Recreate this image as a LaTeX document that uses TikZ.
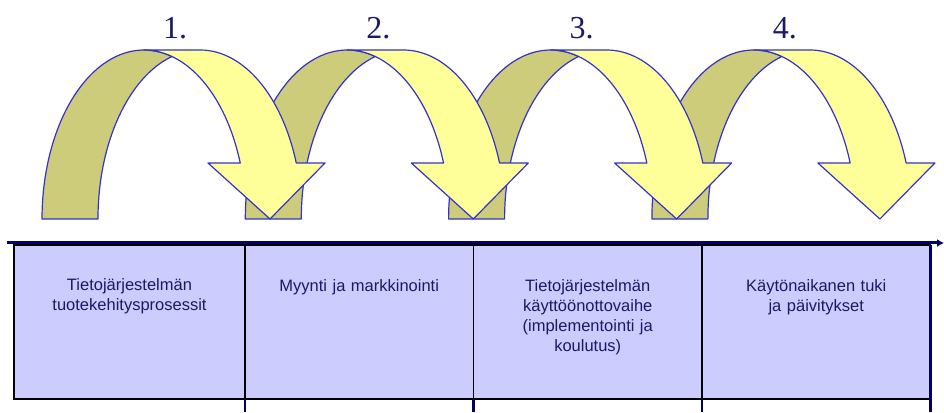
\documentclass[tikz,border=0pt]{standalone}
\usepackage{fontspec}
\setmainfont{Liberation Serif}
\setsansfont{Liberation Sans}
\usetikzlibrary{arrows.meta,positioning}
\definecolor{ArrowYellow}{HTML}{FFFF99}
\definecolor{ArrowOlive}{HTML}{CCCC7A}
\definecolor{ArrowEdge}{HTML}{3333CC}
\definecolor{PhaseFill}{HTML}{CCCCFF}
\definecolor{AxisNavy}{HTML}{000066}
\definecolor{TextNavy}{HTML}{1A1A66}

\begin{document}
\begin{tikzpicture}[
  x=1pt,y=1pt,
  node distance=0pt,
  phase/.style={rectangle,draw=black,line width=1.6pt,fill=PhaseFill,minimum width=228.5pt,minimum height=154pt,inner sep=0pt,outer sep=0pt},
  phasetext/.style={text width=210pt,align=center,inner sep=0pt,font=\sffamily\fontsize{16.5}{20}\selectfont,text=TextNavy},
  stepnum/.style={inner sep=0pt,font=\fontsize{32}{36}\selectfont,text=TextNavy},
  backpart/.style={fill=ArrowOlive,draw=ArrowEdge,line width=1.2pt,line join=round},
  frontpart/.style={fill=ArrowYellow,draw=ArrowEdge,line width=1.2pt,line join=round},
  axis/.style={-{Latex[length=7pt,width=8pt]},line width=3pt,color=AxisNavy},
  divider/.style={line width=2.5pt,color=AxisNavy}
]
\useasboundingbox (0,0) rectangle (944,412);

% curved arrows: back halves first, then the front halves
\foreach \k in {0,1,2,3}{
  \begin{scope}[xshift={\k*203.3pt}]
    \draw[backpart] (42,193) arc[start angle=180,end angle=74.07,x radius=102,y radius=169]
      arc[start angle=105.93,end angle=180,x radius=102,y radius=169] -- cycle;
  \end{scope}
}
\foreach \k in {0,1,2,3}{
  \begin{scope}[xshift={\k*203.3pt}]
    \draw[frontpart] (240.25,249) arc[start angle=19.36,end angle=90,x radius=102,y radius=169]
      -- (200,362) arc[start angle=90,end angle=19.36,x radius=102,y radius=169]
      -- (325,249) -- (270,193) -- (208,249) -- cycle;
  \end{scope}
}

% step numbers
\foreach \k in {1,2,3,4}
  \node[stepnum] (num\k) at ({175+203.3*(\k-1)},384) {\k.};

% phases
\node[phase,minimum width=231pt] (phase1) at (129.5,90) {};
\node[phase,right=of phase1] (phase2) {};
\node[phase,right=of phase2] (phase3) {};
\node[phase,right=of phase3] (phase4) {};

\node[phasetext,below=33pt of phase1.north] (label1) {Tietojärjestelmän\\tuotekehitysprosessit};
\node[phasetext,below=34pt of phase2.north] (label2) {Myynti ja markkinointi};
\node[phasetext,below=34pt of phase3.north] (label3) {Tietojärjestelmän\\käyttöönottovaihe\\(implementointi ja\\koulutus)};
\node[phasetext,below=34pt of phase4.north] (label4) {Käytönaikanen tuki\\ja päivitykset};

% time axis
\coordinate (axisstart) at (7,169);
\coordinate (axisend) at (944,169);
\draw[axis] (axisstart) -- (axisend);

\draw[divider] (phase2.south west) -- ++(0,-13);
\draw[divider] (phase3.south west) -- ++(0,-13);
\draw[divider] (phase4.south west) -- ++(0,-13);
\draw[divider] (phase4.north east) -- ++(0,-167);
\end{tikzpicture}
\end{document}
